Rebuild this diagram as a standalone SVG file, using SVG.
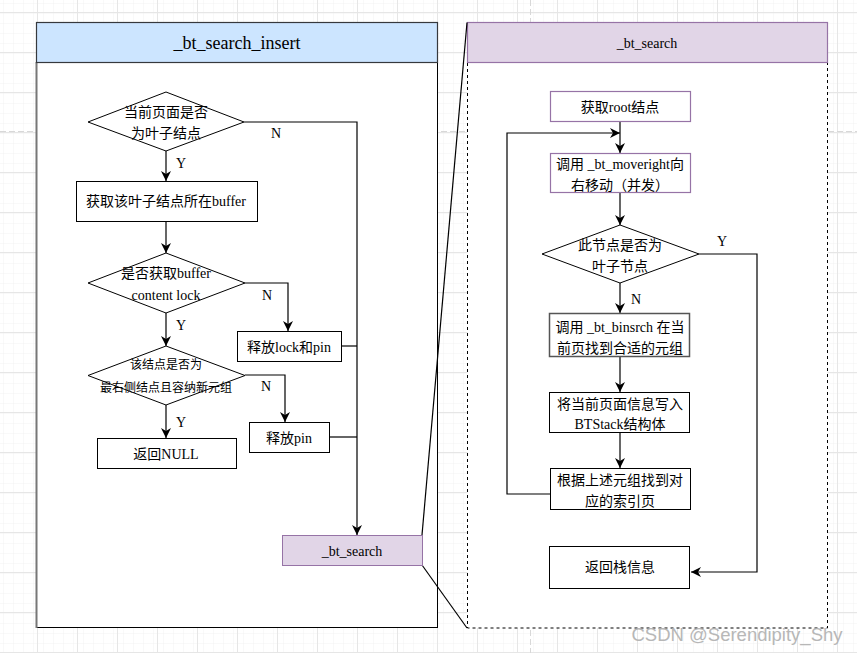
<svg xmlns="http://www.w3.org/2000/svg" width="857" height="653" viewBox="0 0 857 653">
<defs>
<pattern id="minor" width="10" height="10" patternUnits="userSpaceOnUse" x="-3" y="2">
<path d="M10 0V10M0 10H10" fill="none" stroke="#f2f2f2" stroke-width="1"/>
</pattern>
<pattern id="major" width="40" height="40" patternUnits="userSpaceOnUse" x="-3" y="12">
<rect width="40" height="40" fill="url(#minor)"/>
<path d="M0.5 0V40M0 0.5H40" fill="none" stroke="#e6e6e6" stroke-width="1"/>
</pattern>
<marker id="arr" viewBox="0 0 10 10" refX="10" refY="5" markerWidth="10" markerHeight="10" markerUnits="userSpaceOnUse" orient="auto">
<path d="M0 0L10 5L0 10L3 5Z" fill="#000"/>
</marker>
</defs>
<style>
text{font-family:"Liberation Serif","Noto Sans CJK SC",serif;font-size:14px;fill:#000;text-anchor:middle;dominant-baseline:central}
.box{fill:#fff;stroke:#000;stroke-width:1}
.pbox{fill:#fff;stroke:#9673a6;stroke-width:1.2}
.dia{fill:#fff;stroke:#000;stroke-width:1}
.ln{fill:none;stroke:#000;stroke-width:1.2}
.arw{fill:none;stroke:#000;stroke-width:1.2;marker-end:url(#arr)}
.small{font-size:12px}
.lbl{font-size:14px}
</style>
<rect width="857" height="653" fill="#fff"/>
<rect width="857" height="653" fill="url(#major)"/>
<line x1="0" y1="131.5" x2="857" y2="131.5" stroke="#d8d8d8" stroke-dasharray="6 3"/>
<line x1="530.5" y1="0" x2="530.5" y2="653" stroke="#d8d8d8" stroke-dasharray="6 3"/>

<g id="panel-left">
<rect x="36.5" y="22.5" width="401" height="605" fill="#fff" stroke="#000" stroke-width="1"/>
<line x1="36.5" y1="62" x2="36.5" y2="628" stroke="#777" stroke-width="2"/>
<rect x="36.5" y="22.5" width="401" height="40" fill="#cce5ff" stroke="#36393d" stroke-width="1.2"/>
<text x="237" y="43" style="font-size:18px">_bt_search_insert</text>
</g>

<g id="panel-right">
<rect x="467.5" y="62" width="360" height="566" fill="#fff" stroke="#000" stroke-width="1" stroke-dasharray="3 3"/>
<rect x="467.5" y="22.5" width="360" height="40" fill="#e1d5e7" stroke="#9673a6" stroke-width="1.2"/>
<text x="647" y="43">_bt_search</text>
</g>

<g id="connectors">
<line class="ln" x1="422" y1="535" x2="467" y2="22.5" stroke-width="1"/>
<line class="ln" x1="422" y1="565" x2="467" y2="628" stroke-width="1"/>
<line class="arw" x1="166" y1="151" x2="166" y2="181"/>
<polyline class="ln" points="244,122 357,122 357,500"/>
<line class="arw" x1="357" y1="500" x2="357" y2="535"/>
<line class="arw" x1="166" y1="221" x2="166" y2="253"/>
<polyline class="arw" points="245,283 288,283 288,331"/>
<line class="ln" x1="341" y1="346" x2="357" y2="346"/>
<line class="arw" x1="166" y1="313" x2="166" y2="346"/>
<polyline class="arw" points="245,375 285,375 285,422"/>
<line class="ln" x1="329" y1="437" x2="357" y2="437"/>
<line class="arw" x1="166" y1="405" x2="166" y2="438"/>
<line class="arw" x1="620" y1="121" x2="620" y2="153"/>
<polyline class="arw" points="550,494 507,494 507,133 620,133"/>
<line class="arw" x1="620" y1="192" x2="620" y2="225"/>
<polyline class="arw" points="699,254 757,254 757,572 691,572"/>
<line class="arw" x1="620" y1="283" x2="620" y2="313"/>
<line class="arw" x1="620" y1="356" x2="620" y2="392"/>
<line class="arw" x1="620" y1="432" x2="620" y2="468"/>
<text x="276" y="133" class="lbl">N</text>
<text x="181" y="163" class="lbl">Y</text>
<text x="267" y="295" class="lbl">N</text>
<text x="181" y="325" class="lbl">Y</text>
<text x="266" y="386" class="lbl">N</text>
<text x="181" y="422" class="lbl">Y</text>
<text x="722" y="241" class="lbl">Y</text>
<text x="636" y="299" class="lbl">N</text>
</g>

<g id="d1">
<polygon class="dia" points="166,92 244,122 166,151 88,122"/>
<text x="166" y="112">当前页面是否</text>
<text x="166" y="133">为叶子结点</text>
</g>
<g id="b1">
<rect class="box" x="76.5" y="181.5" width="181" height="40"/>
<text x="166" y="201">获取该叶子结点所在buffer</text>
</g>
<g id="d2">
<polygon class="dia" points="166,253 245,283 166,313 88,283"/>
<text x="166" y="273">是否获取buffer</text>
<text x="166" y="295">content lock</text>
</g>
<g id="b2">
<rect class="box" x="237.5" y="331.5" width="104" height="30"/>
<text x="289" y="347">释放lock和pin</text>
</g>
<g id="d3">
<polygon class="dia" points="166,346 245,375.5 166,405 88,375.5"/>
<text x="166" y="365" class="small">该结点是否为</text>
<text x="166" y="388" class="small">最右侧结点且容纳新元组</text>
</g>
<g id="b3">
<rect class="box" x="249.5" y="422.5" width="80" height="30"/>
<text x="289" y="438">释放pin</text>
</g>
<g id="b4">
<rect class="box" x="97.5" y="438.5" width="139" height="30"/>
<text x="166" y="454">返回NULL</text>
</g>
<g id="bs">
<rect x="282.5" y="535.5" width="140" height="30" fill="#e1d5e7" stroke="#9673a6" stroke-width="1"/>
<text x="352" y="551">_bt_search</text>
</g>

<g id="r1">
<rect class="pbox" x="550.5" y="91.5" width="140" height="30"/>
<text x="620" y="107">获取root结点</text>
</g>
<g id="r2">
<rect class="pbox" x="550.5" y="153.5" width="140" height="39"/>
<text x="620" y="164">调用 _bt_moveright向</text>
<text x="620" y="185">右移动（并发）</text>
</g>
<g id="rd">
<polygon class="dia" points="620,225 699,254 620,283 542,254"/>
<text x="620" y="245">此节点是否为</text>
<text x="620" y="266">叶子节点</text>
</g>
<g id="r3">
<rect x="549.5" y="313.5" width="140" height="43" fill="#fff" stroke="#555" stroke-width="1.5"/>
<text x="620" y="327">调用 _bt_binsrch 在当</text>
<text x="620" y="348">前页找到合适的元组</text>
</g>
<g id="r4">
<rect class="box" x="549.5" y="392.5" width="140" height="40"/>
<text x="620" y="404">将当前页面信息写入</text>
<text x="620" y="424">BTStack结构体</text>
</g>
<g id="r5">
<rect class="box" x="550.5" y="468.5" width="140" height="41"/>
<text x="620" y="480">根据上述元组找到对</text>
<text x="620" y="501">应的索引页</text>
</g>
<g id="r6">
<rect class="box" x="549.5" y="546.5" width="140" height="42"/>
<text x="620" y="567">返回栈信息</text>
</g>

<text x="737" y="634" style="font-family:'Liberation Sans','Noto Sans CJK SC',sans-serif;font-size:18.5px;fill:#b0b0b0;opacity:0.9">CSDN @Serendipity_Shy</text>
</svg>
